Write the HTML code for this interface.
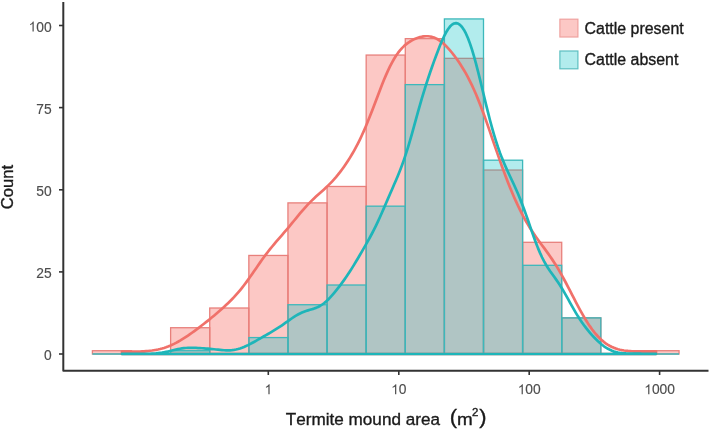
<!DOCTYPE html>
<html><head><meta charset="utf-8"><style>
html,body{margin:0;padding:0;background:#fff;width:709px;height:430px;overflow:hidden;font-family:"Liberation Sans",sans-serif;}
svg{display:block;will-change:transform} text{font-kerning:none;font-feature-settings:'kern' 0,'liga' 0}
</style></head><body>
<svg width="709" height="430" viewBox="0 0 709 430">
<rect width="709" height="430" fill="#FFFFFF"/>
<g>
<rect x="92.40" y="350.71" width="39.11" height="3.29" fill="rgba(248,118,109,0.4)" stroke="#E8807C" stroke-width="1.3"/>
<line x1="131.51" y1="354.00" x2="170.62" y2="354.00" stroke="#E8807C" stroke-width="1.3"/>
<rect x="170.62" y="327.72" width="39.11" height="26.28" fill="rgba(248,118,109,0.4)" stroke="#E8807C" stroke-width="1.3"/>
<rect x="209.73" y="308.01" width="39.11" height="45.99" fill="rgba(248,118,109,0.4)" stroke="#E8807C" stroke-width="1.3"/>
<rect x="248.84" y="255.45" width="39.11" height="98.55" fill="rgba(248,118,109,0.4)" stroke="#E8807C" stroke-width="1.3"/>
<rect x="287.95" y="202.89" width="39.11" height="151.11" fill="rgba(248,118,109,0.4)" stroke="#E8807C" stroke-width="1.3"/>
<rect x="327.06" y="186.47" width="39.11" height="167.53" fill="rgba(248,118,109,0.4)" stroke="#E8807C" stroke-width="1.3"/>
<rect x="366.17" y="55.06" width="39.11" height="298.94" fill="rgba(248,118,109,0.4)" stroke="#E8807C" stroke-width="1.3"/>
<rect x="405.28" y="38.64" width="39.11" height="315.36" fill="rgba(248,118,109,0.4)" stroke="#E8807C" stroke-width="1.3"/>
<rect x="444.39" y="58.35" width="39.11" height="295.65" fill="rgba(248,118,109,0.4)" stroke="#E8807C" stroke-width="1.3"/>
<rect x="483.50" y="170.04" width="39.11" height="183.96" fill="rgba(248,118,109,0.4)" stroke="#E8807C" stroke-width="1.3"/>
<rect x="522.61" y="242.31" width="39.11" height="111.69" fill="rgba(248,118,109,0.4)" stroke="#E8807C" stroke-width="1.3"/>
<rect x="561.72" y="317.87" width="39.11" height="36.13" fill="rgba(248,118,109,0.4)" stroke="#E8807C" stroke-width="1.3"/>
<line x1="600.83" y1="354.00" x2="639.94" y2="354.00" stroke="#E8807C" stroke-width="1.3"/>
<rect x="639.94" y="350.71" width="39.11" height="3.29" fill="rgba(248,118,109,0.4)" stroke="#E8807C" stroke-width="1.3"/>
<line x1="92.40" y1="354.00" x2="131.51" y2="354.00" stroke="#3DB8BB" stroke-width="1.3"/>
<line x1="131.51" y1="354.00" x2="170.62" y2="354.00" stroke="#3DB8BB" stroke-width="1.3"/>
<rect x="170.62" y="350.71" width="39.11" height="3.29" fill="rgba(0,191,196,0.3)" stroke="#3DB8BB" stroke-width="1.3"/>
<line x1="209.73" y1="354.00" x2="248.84" y2="354.00" stroke="#3DB8BB" stroke-width="1.3"/>
<rect x="248.84" y="337.57" width="39.11" height="16.43" fill="rgba(0,191,196,0.3)" stroke="#3DB8BB" stroke-width="1.3"/>
<rect x="287.95" y="304.73" width="39.11" height="49.27" fill="rgba(0,191,196,0.3)" stroke="#3DB8BB" stroke-width="1.3"/>
<rect x="327.06" y="285.01" width="39.11" height="68.99" fill="rgba(0,191,196,0.3)" stroke="#3DB8BB" stroke-width="1.3"/>
<rect x="366.17" y="206.17" width="39.11" height="147.83" fill="rgba(0,191,196,0.3)" stroke="#3DB8BB" stroke-width="1.3"/>
<rect x="405.28" y="84.63" width="39.11" height="269.37" fill="rgba(0,191,196,0.3)" stroke="#3DB8BB" stroke-width="1.3"/>
<rect x="444.39" y="18.93" width="39.11" height="335.07" fill="rgba(0,191,196,0.3)" stroke="#3DB8BB" stroke-width="1.3"/>
<rect x="483.50" y="160.19" width="39.11" height="193.81" fill="rgba(0,191,196,0.3)" stroke="#3DB8BB" stroke-width="1.3"/>
<rect x="522.61" y="265.31" width="39.11" height="88.69" fill="rgba(0,191,196,0.3)" stroke="#3DB8BB" stroke-width="1.3"/>
<rect x="561.72" y="317.87" width="39.11" height="36.13" fill="rgba(0,191,196,0.3)" stroke="#3DB8BB" stroke-width="1.3"/>
<line x1="600.83" y1="354.00" x2="639.94" y2="354.00" stroke="#3DB8BB" stroke-width="1.3"/>
<line x1="639.94" y1="354.00" x2="679.05" y2="354.00" stroke="#3DB8BB" stroke-width="1.3"/>
</g>
<polygon points="122.00,354.00 122.00,351.49 124.00,351.54 126.00,351.59 128.00,351.63 130.00,351.65 132.00,351.66 134.00,351.66 136.00,351.63 138.00,351.59 140.00,351.52 142.00,351.43 144.00,351.32 146.00,351.17 148.00,350.99 150.00,350.78 152.00,350.53 154.00,350.23 156.00,349.89 158.00,349.49 160.00,349.03 162.00,348.51 164.00,347.92 166.00,347.27 168.00,346.54 170.00,345.73 172.00,344.85 174.00,343.90 176.00,342.88 178.00,341.79 180.00,340.64 182.00,339.43 184.00,338.17 186.00,336.86 188.00,335.52 190.00,334.14 192.00,332.73 194.00,331.29 196.00,329.83 198.00,328.34 200.00,326.83 202.00,325.30 204.00,323.75 206.00,322.18 208.00,320.58 210.00,318.97 212.00,317.33 214.00,315.67 216.00,313.98 218.00,312.27 220.00,310.53 222.00,308.76 224.00,306.95 226.00,305.10 228.00,303.21 230.00,301.25 232.00,299.22 234.00,297.13 236.00,294.94 238.00,292.67 240.00,290.29 242.00,287.83 244.00,285.26 246.00,282.60 248.00,279.86 250.00,277.05 252.00,274.19 254.00,271.30 256.00,268.39 258.00,265.49 260.00,262.62 262.00,259.80 264.00,257.04 266.00,254.35 268.00,251.73 270.00,249.20 272.00,246.73 274.00,244.33 276.00,241.98 278.00,239.66 280.00,237.35 282.00,235.05 284.00,232.74 286.00,230.40 288.00,228.03 290.00,225.63 292.00,223.21 294.00,220.76 296.00,218.31 298.00,215.88 300.00,213.46 302.00,211.10 304.00,208.79 306.00,206.55 308.00,204.40 310.00,202.33 312.00,200.34 314.00,198.43 316.00,196.58 318.00,194.77 320.00,192.99 322.00,191.20 324.00,189.40 326.00,187.55 328.00,185.64 330.00,183.65 332.00,181.56 334.00,179.37 336.00,177.07 338.00,174.66 340.00,172.13 342.00,169.48 344.00,166.71 346.00,163.81 348.00,160.79 350.00,157.62 352.00,154.30 354.00,150.82 356.00,147.16 358.00,143.32 360.00,139.28 362.00,135.03 364.00,130.58 366.00,125.93 368.00,121.09 370.00,116.09 372.00,110.95 374.00,105.72 376.00,100.44 378.00,95.16 380.00,89.93 382.00,84.81 384.00,79.86 386.00,75.12 388.00,70.63 390.00,66.43 392.00,62.55 394.00,59.00 396.00,55.79 398.00,52.91 400.00,50.35 402.00,48.09 404.00,46.10 406.00,44.36 408.00,42.84 410.00,41.51 412.00,40.36 414.00,39.35 416.00,38.49 418.00,37.75 420.00,37.16 422.00,36.70 424.00,36.39 426.00,36.24 428.00,36.27 430.00,36.50 432.00,36.92 434.00,37.57 436.00,38.43 438.00,39.52 440.00,40.83 442.00,42.35 444.00,44.08 446.00,45.99 448.00,48.09 450.00,50.34 452.00,52.75 454.00,55.30 456.00,57.99 458.00,60.82 460.00,63.80 462.00,66.93 464.00,70.22 466.00,73.70 468.00,77.37 470.00,81.26 472.00,85.37 474.00,89.72 476.00,94.30 478.00,99.12 480.00,104.16 482.00,109.40 484.00,114.83 486.00,120.41 488.00,126.11 490.00,131.90 492.00,137.73 494.00,143.58 496.00,149.40 498.00,155.17 500.00,160.86 502.00,166.44 504.00,171.90 506.00,177.22 508.00,182.39 510.00,187.40 512.00,192.24 514.00,196.92 516.00,201.42 518.00,205.74 520.00,209.88 522.00,213.85 524.00,217.64 526.00,221.25 528.00,224.69 530.00,227.97 532.00,231.11 534.00,234.10 536.00,236.99 538.00,239.78 540.00,242.51 542.00,245.20 544.00,247.88 546.00,250.59 548.00,253.35 550.00,256.18 552.00,259.12 554.00,262.16 556.00,265.33 558.00,268.63 560.00,272.05 562.00,275.60 564.00,279.26 566.00,283.01 568.00,286.83 570.00,290.70 572.00,294.59 574.00,298.47 576.00,302.33 578.00,306.12 580.00,309.83 582.00,313.43 584.00,316.90 586.00,320.23 588.00,323.40 590.00,326.40 592.00,329.21 594.00,331.83 596.00,334.27 598.00,336.50 600.00,338.54 602.00,340.39 604.00,342.06 606.00,343.54 608.00,344.85 610.00,346.01 612.00,347.00 614.00,347.86 616.00,348.59 618.00,349.21 620.00,349.72 622.00,350.14 624.00,350.47 626.00,350.75 628.00,350.96 630.00,351.12 632.00,351.24 634.00,351.33 636.00,351.39 638.00,351.43 640.00,351.45 642.00,351.45 644.00,351.45 646.00,351.43 648.00,351.41 650.00,351.39 652.00,351.36 654.00,351.34 656.00,351.31 656.00,354.00" fill="none" stroke="#F0716A" stroke-width="2.7" stroke-linejoin="round"/>
<polygon points="122.00,354.00 122.00,353.89 124.00,353.90 126.00,353.91 128.00,353.92 130.00,353.92 132.00,353.93 134.00,353.94 136.00,353.94 138.00,353.94 140.00,353.94 142.00,353.93 144.00,353.91 146.00,353.87 148.00,353.82 150.00,353.75 152.00,353.66 154.00,353.53 156.00,353.37 158.00,353.16 160.00,352.91 162.00,352.62 164.00,352.27 166.00,351.88 168.00,351.45 170.00,350.99 172.00,350.51 174.00,350.04 176.00,349.58 178.00,349.15 180.00,348.77 182.00,348.44 184.00,348.18 186.00,348.00 188.00,347.88 190.00,347.82 192.00,347.82 194.00,347.86 196.00,347.93 198.00,348.03 200.00,348.14 202.00,348.26 204.00,348.39 206.00,348.53 208.00,348.69 210.00,348.86 212.00,349.05 214.00,349.25 216.00,349.47 218.00,349.69 220.00,349.90 222.00,350.09 224.00,350.24 226.00,350.34 228.00,350.37 230.00,350.31 232.00,350.15 234.00,349.89 236.00,349.52 238.00,349.03 240.00,348.44 242.00,347.74 244.00,346.94 246.00,346.06 248.00,345.11 250.00,344.09 252.00,343.03 254.00,341.94 256.00,340.82 258.00,339.69 260.00,338.55 262.00,337.40 264.00,336.26 266.00,335.12 268.00,333.97 270.00,332.81 272.00,331.63 274.00,330.43 276.00,329.19 278.00,327.92 280.00,326.61 282.00,325.26 284.00,323.87 286.00,322.46 288.00,321.04 290.00,319.63 292.00,318.25 294.00,316.92 296.00,315.67 298.00,314.51 300.00,313.46 302.00,312.54 304.00,311.72 306.00,311.01 308.00,310.39 310.00,309.80 312.00,309.22 314.00,308.60 316.00,307.87 318.00,307.01 320.00,305.98 322.00,304.73 324.00,303.28 326.00,301.60 328.00,299.73 330.00,297.67 332.00,295.46 334.00,293.13 336.00,290.70 338.00,288.18 340.00,285.58 342.00,282.91 344.00,280.15 346.00,277.30 348.00,274.35 350.00,271.30 352.00,268.14 354.00,264.89 356.00,261.56 358.00,258.19 360.00,254.77 362.00,251.34 364.00,247.88 366.00,244.40 368.00,240.86 370.00,237.24 372.00,233.51 374.00,229.63 376.00,225.58 378.00,221.37 380.00,216.99 382.00,212.49 384.00,207.90 386.00,203.27 388.00,198.63 390.00,194.01 392.00,189.42 394.00,184.83 396.00,180.20 398.00,175.44 400.00,170.48 402.00,165.23 404.00,159.65 406.00,153.68 408.00,147.32 410.00,140.61 412.00,133.63 414.00,126.45 416.00,119.20 418.00,111.98 420.00,104.88 422.00,97.98 424.00,91.32 426.00,84.91 428.00,78.74 430.00,72.78 432.00,67.00 434.00,61.38 436.00,55.92 438.00,50.65 440.00,45.59 442.00,40.84 444.00,36.46 446.00,32.57 448.00,29.25 450.00,26.58 452.00,24.63 454.00,23.46 456.00,23.09 458.00,23.56 460.00,24.86 462.00,27.00 464.00,29.96 466.00,33.74 468.00,38.30 470.00,43.64 472.00,49.68 474.00,56.37 476.00,63.64 478.00,71.36 480.00,79.42 482.00,87.70 484.00,96.04 486.00,104.33 488.00,112.42 490.00,120.23 492.00,127.66 494.00,134.66 496.00,141.20 498.00,147.27 500.00,152.90 502.00,158.13 504.00,163.01 506.00,167.60 508.00,172.00 510.00,176.28 512.00,180.52 514.00,184.80 516.00,189.22 518.00,193.81 520.00,198.64 522.00,203.72 524.00,209.05 526.00,214.60 528.00,220.31 530.00,226.11 532.00,231.89 534.00,237.55 536.00,242.99 538.00,248.12 540.00,252.89 542.00,257.24 544.00,261.19 546.00,264.75 548.00,267.98 550.00,270.97 552.00,273.81 554.00,276.58 556.00,279.38 558.00,282.28 560.00,285.31 562.00,288.51 564.00,291.86 566.00,295.35 568.00,298.93 570.00,302.54 572.00,306.13 574.00,309.66 576.00,313.07 578.00,316.35 580.00,319.47 582.00,322.42 584.00,325.22 586.00,327.87 588.00,330.39 590.00,332.78 592.00,335.07 594.00,337.24 596.00,339.30 598.00,341.25 600.00,343.06 602.00,344.74 604.00,346.26 606.00,347.62 608.00,348.82 610.00,349.85 612.00,350.72 614.00,351.44 616.00,352.02 618.00,352.47 620.00,352.83 622.00,353.09 624.00,353.28 626.00,353.42 628.00,353.51 630.00,353.58 632.00,353.62 634.00,353.65 636.00,353.67 638.00,353.69 640.00,353.71 642.00,353.73 644.00,353.75 646.00,353.77 648.00,353.80 650.00,353.82 652.00,353.85 654.00,353.87 656.00,353.90 656.00,354.00" fill="none" stroke="#1EB5B9" stroke-width="2.7" stroke-linejoin="round"/>
<g stroke="#333333" stroke-width="2" fill="none" stroke-linecap="butt">
<polyline points="63.3,2 63.3,370.7 708.5,370.7" stroke-linejoin="round"/>
</g>
<g stroke="#333333" stroke-width="1.6">
<line x1="59" y1="354.0" x2="63" y2="354.0"/>
<line x1="59" y1="271.9" x2="63" y2="271.9"/>
<line x1="59" y1="189.8" x2="63" y2="189.8"/>
<line x1="59" y1="107.6" x2="63" y2="107.6"/>
<line x1="59" y1="25.5" x2="63" y2="25.5"/>
<line x1="268.3" y1="371" x2="268.3" y2="375"/>
<line x1="398.8" y1="371" x2="398.8" y2="375"/>
<line x1="529.2" y1="371" x2="529.2" y2="375"/>
<line x1="659.6" y1="371" x2="659.6" y2="375"/>
</g>
<g font-family="Liberation Sans, sans-serif" font-size="13.8" fill="#4D4D4D" stroke="#4D4D4D" stroke-width="0.15">
<text x="43.93" y="360.00">0</text>
<text x="36.25" y="277.88">25</text>
<text x="36.25" y="195.75">50</text>
<text x="36.25" y="113.62">75</text>
<path d="M763,0 L583,0 L583,1147 Q518,1085 412,1023 T221,930 L221,1104 Q372,1175 485,1276 T645,1472 L763,1472 Z" transform="translate(28.58 31.50) scale(0.00674 -0.00674)"/><text x="36.25" y="31.50">00</text>
<path d="M763,0 L583,0 L583,1147 Q518,1085 412,1023 T221,930 L221,1104 Q372,1175 485,1276 T645,1472 L763,1472 Z" transform="translate(264.46 394.20) scale(0.00674 -0.00674)"/>
<path d="M763,0 L583,0 L583,1147 Q518,1085 412,1023 T221,930 L221,1104 Q372,1175 485,1276 T645,1472 L763,1472 Z" transform="translate(391.13 394.20) scale(0.00674 -0.00674)"/><text x="398.80" y="394.20">0</text>
<path d="M763,0 L583,0 L583,1147 Q518,1085 412,1023 T221,930 L221,1104 Q372,1175 485,1276 T645,1472 L763,1472 Z" transform="translate(517.69 394.20) scale(0.00674 -0.00674)"/><text x="525.36" y="394.20">00</text>
<path d="M763,0 L583,0 L583,1147 Q518,1085 412,1023 T221,930 L221,1104 Q372,1175 485,1276 T645,1472 L763,1472 Z" transform="translate(644.25 394.20) scale(0.00674 -0.00674)"/><text x="651.93" y="394.20">000</text>
</g>
<g font-family="Liberation Sans, sans-serif" fill="#1A1A1A" stroke="#1A1A1A" stroke-width="0.35">
<text transform="translate(13.4 187.0) rotate(-90)" text-anchor="middle" font-size="16.6">Count</text>
<text transform="translate(285.8 424.7) scale(1.02 1)" font-size="16.8">Termite mound area</text>
<g transform="translate(285.8 424.7) scale(1.04 1)" font-size="16.8">
<text x="157.6" y="-0.3" font-size="21">(</text>
<text transform="translate(164.6 0) scale(1.08 1)">m</text>
<text x="179.1" y="-8.3" font-size="11">2</text>
<text x="186" y="-0.3" font-size="21">)</text>
</g>
</g>
<g>
<rect x="559.9" y="19.2" width="18" height="17.8" fill="rgba(248,118,109,0.4)" stroke="#EFA29F" stroke-width="1.2"/>
<rect x="559.9" y="51" width="18" height="17.8" fill="rgba(0,191,196,0.3)" stroke="#5DBFC1" stroke-width="1.2"/>
</g>
<g font-family="Liberation Sans, sans-serif" font-size="16" fill="#1A1A1A" stroke="#1A1A1A" stroke-width="0.35">
<text x="584.6" y="33.6" transform="translate(584.6 0) scale(0.995 1) translate(-584.6 0)">Cattle present</text>
<text x="584.6" y="65.3" transform="translate(584.6 0) scale(0.995 1) translate(-584.6 0)">Cattle absent</text>
</g>
</svg>
</body></html>
